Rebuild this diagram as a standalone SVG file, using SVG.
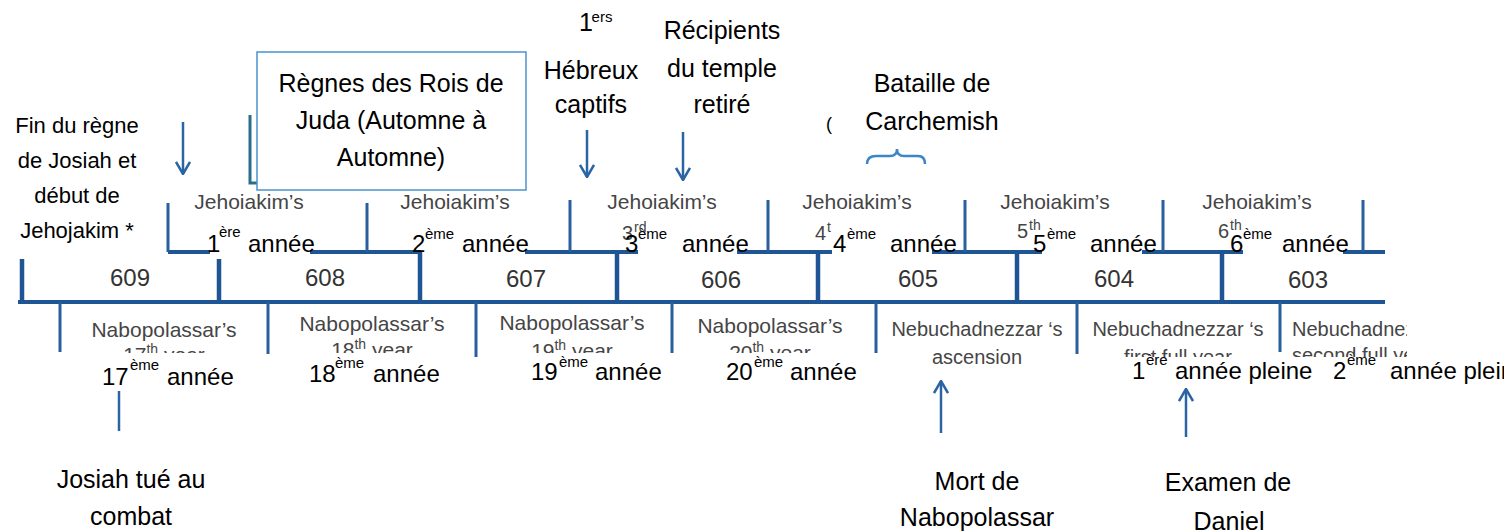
<svg xmlns="http://www.w3.org/2000/svg" width="1504" height="531" viewBox="0 0 1504 531">
<style>
text{font-family:"Liberation Sans",Arial,sans-serif}
.fr{fill:#000;font-size:24px}
.lab{fill:#000;font-size:25px;text-anchor:middle}
.sm{fill:#000;font-size:22px;text-anchor:middle}
.sup{font-size:15px}
.gr{fill:#454545;font-size:21px;text-anchor:middle}
.gs{fill:#454545;font-size:20px}
.gsup{font-size:14px}
.yr{fill:#333;font-size:24px;text-anchor:middle}
.ax{stroke:#1f5594;stroke-width:4;fill:none}
.tk{stroke:#1f5594;stroke-width:4.5;fill:none}
.jt{stroke:#2a5f9e;stroke-width:3;fill:none}
.arr{stroke:#2b64a3;stroke-width:2.5;fill:none}
</style>
<defs>
<marker id="head" viewBox="0 0 14 16" refX="13" refY="8" markerWidth="14" markerHeight="16" markerUnits="userSpaceOnUse" orient="auto">
<path d="M1,1 L13,8 L1,15" fill="none" stroke="#2b64a3" stroke-width="2.5"/>
</marker>
<clipPath id="botclip">
<rect x="0" y="300" width="870" height="53"/>
<rect x="870" y="300" width="207" height="80"/>
<rect x="1077" y="300" width="330" height="57"/>
</clipPath>
</defs>
<rect width="1504" height="531" fill="#fff"/>

<g id="connectors">
<line class="ax" x1="18" y1="302" x2="1385" y2="302"/>
<path class="ax" d="M168,252 H210 M310,252 H421 M525,252 H638 M737,252 H832 M932,252 H1042 M1142,252 H1243 M1343,252 H1385"/>
<path class="jt" d="M168,203 V252 M367,203 V252 M570,200 V252 M768,200 V252 M965,200 V252 M1163,200 V252 M1363,200 V252"/>
<path class="tk" d="M22,259 V303 M219,259 V303 M420,252 V303 M617,252 V303 M818,252 V303 M1017,252 V303 M1222,252 V303"/>
<path class="jt" d="M60,302 V352 M268,302 V354 M476,302 V357 M672,302 V353 M876,302 V353 M1077,302 V354 M1280,302 V352"/>
<path d="M250,115 V183 H257" stroke="#2a6e8c" stroke-width="3" fill="none"/>
<line class="arr" x1="183" y1="122" x2="183" y2="174" marker-end="url(#head)"/>
<line class="arr" x1="587" y1="130" x2="587" y2="177" marker-end="url(#head)"/>
<line class="arr" x1="683" y1="132" x2="683" y2="180" marker-end="url(#head)"/>
<line class="arr" x1="119" y1="391" x2="119" y2="431"/>
<line class="arr" x1="941" y1="433" x2="941" y2="381" marker-end="url(#head)"/>
<line class="arr" x1="1186" y1="437" x2="1186" y2="389" marker-end="url(#head)"/>
<path d="M867,164 Q867,156 876,156 H890 Q897,156 897,149 Q897,156 904,156 H918 Q925,156 925,164" stroke="#3a86c8" stroke-width="2.5" fill="none"/>
</g>

<g id="years">
<text class="yr" x="130" y="286">609</text>
<text class="yr" x="325" y="286">608</text>
<text class="yr" x="526" y="287">607</text>
<text class="yr" x="721" y="288">606</text>
<text class="yr" x="918" y="287">605</text>
<text class="yr" x="1114" y="287">604</text>
<text class="yr" x="1308" y="288">603</text>
</g>

<g id="judah-labels">
<text class="gr" x="249" y="209">Jehoiakim’s</text>
<text class="gr" x="455" y="209">Jehoiakim’s</text>
<text class="gr" x="662" y="209">Jehoiakim’s</text>
<text class="gr" x="857" y="209">Jehoiakim’s</text>
<text class="gr" x="1055" y="209">Jehoiakim’s</text>
<text class="gr" x="1257" y="209">Jehoiakim’s</text>
<text class="gs" y="240"><tspan x="622">3</tspan><tspan class="gsup" x="634" y="232">rd</tspan></text>
<text class="gs" y="240"><tspan x="815">4</tspan><tspan class="gsup" x="827" y="232">t</tspan></text>
<text class="gs" y="238"><tspan x="1017">5</tspan><tspan class="gsup" x="1029" y="230">th</tspan></text>
<text class="gs" y="238"><tspan x="1218">6</tspan><tspan class="gsup" x="1230" y="230">th</tspan></text>
</g>

<g id="babylon-labels" clip-path="url(#botclip)">
<text class="gr" x="164" y="337">Nabopolassar’s</text>
<text class="gr" x="164" y="362">17<tspan class="gsup" dy="-8">th</tspan><tspan dy="8"> year</tspan></text>
<text class="gr" x="372" y="331">Nabopolassar’s</text>
<text class="gr" x="372" y="357">18<tspan class="gsup" dy="-8">th</tspan><tspan dy="8"> year</tspan></text>
<text class="gr" x="572" y="330">Nabopolassar’s</text>
<text class="gr" x="572" y="358">19<tspan class="gsup" dy="-8">th</tspan><tspan dy="8"> year</tspan></text>
<text class="gr" x="770" y="333">Nabopolassar’s</text>
<text class="gr" x="770" y="360">20<tspan class="gsup" dy="-8">th</tspan><tspan dy="8"> year</tspan></text>
<text class="gr" x="977" y="336" style="font-size:20px">Nebuchadnezzar ‘s</text>
<text class="gr" x="977" y="364" style="font-size:20px">ascension</text>
<text class="gr" x="1178" y="336" style="font-size:20px">Nebuchadnezzar ‘s</text>
<text class="gr" x="1178" y="364" style="font-size:20px">first full year</text>
<text class="gr" x="1292" y="336" style="font-size:20px;text-anchor:start">Nebuchadnezzar ‘s</text>
<text class="gr" x="1292" y="362" style="font-size:20px;text-anchor:start">second full year</text>
</g>

<g id="judah-years-fr">
<text class="fr" y="252"><tspan x="207">1</tspan><tspan class="sup" x="219" y="237">ère</tspan><tspan x="248" y="252">année</tspan></text>
<text class="fr" y="252"><tspan x="412">2</tspan><tspan class="sup" x="425" y="239">ème</tspan><tspan x="462" y="252">année</tspan></text>
<text class="fr" y="252"><tspan x="625">3</tspan><tspan class="sup" x="638" y="239">ème</tspan><tspan x="682" y="252">année</tspan></text>
<text class="fr" y="252"><tspan x="833">4</tspan><tspan class="sup" x="847" y="239">ème</tspan><tspan x="890" y="252">année</tspan></text>
<text class="fr" y="252"><tspan x="1033">5</tspan><tspan class="sup" x="1047" y="239">ème</tspan><tspan x="1090" y="252">année</tspan></text>
<text class="fr" y="252"><tspan x="1230">6</tspan><tspan class="sup" x="1243" y="239">ème</tspan><tspan x="1282" y="252">année</tspan></text>
</g>

<g id="babylon-years-fr">
<text class="fr" y="385"><tspan x="102">17</tspan><tspan class="sup" x="130" y="370">ème</tspan><tspan x="167" y="385">année</tspan></text>
<text class="fr" y="382"><tspan x="309">18</tspan><tspan class="sup" x="335" y="368">ème</tspan><tspan x="373" y="382">année</tspan></text>
<text class="fr" y="380"><tspan x="531">19</tspan><tspan class="sup" x="559" y="367">ème</tspan><tspan x="595" y="380">année</tspan></text>
<text class="fr" y="380"><tspan x="726">20</tspan><tspan class="sup" x="754" y="367">ème</tspan><tspan x="790" y="380">année</tspan></text>
<text class="fr" y="379"><tspan x="1132">1</tspan><tspan class="sup" x="1146" y="365">ère</tspan><tspan x="1175" y="379">année pleine</tspan></text>
<text class="fr" y="379"><tspan x="1333">2</tspan><tspan class="sup" x="1347" y="365">ème</tspan><tspan x="1390" y="379">année pleine</tspan></text>
</g>

<g id="node-fin-regne">
<text class="sm" x="77" y="133">Fin du règne</text>
<text class="sm" x="77" y="168">de Josiah et</text>
<text class="sm" x="77" y="203">début de</text>
<text class="sm" x="77" y="238">Jehojakim *</text>
</g>

<g id="node-regnes">
<rect x="257" y="52" width="269" height="138" fill="#fff" stroke="#4a93cf" stroke-width="1.5"/>
<text class="lab" x="391" y="92">Règnes des Rois de</text>
<text class="lab" x="391" y="129">Juda (Automne à</text>
<text class="lab" x="391" y="166">Automne)</text>
</g>

<g id="node-hebreux">
<text class="lab" y="31"><tspan x="586">1</tspan><tspan class="sup" x="602" y="22">ers</tspan></text>
<text class="lab" x="591" y="79">Hébreux</text>
<text class="lab" x="591" y="113">captifs</text>
</g>

<g id="node-recipients">
<text class="lab" x="722" y="39">Récipients</text>
<text class="lab" x="722" y="77">du temple</text>
<text class="lab" x="722" y="113">retiré</text>
</g>

<g id="node-carchemish">
<text class="sm" x="829" y="130" style="font-size:18px">(</text>
<text class="lab" x="932" y="92">Bataille de</text>
<text class="lab" x="932" y="130">Carchemish</text>
</g>

<g id="node-josiah">
<text class="lab" x="131" y="488">Josiah tué au</text>
<text class="lab" x="131" y="525">combat</text>
</g>

<g id="node-mort">
<text class="lab" x="977" y="490">Mort de</text>
<text class="lab" x="977" y="526">Nabopolassar</text>
</g>

<g id="node-examen">
<text class="lab" x="1228" y="491">Examen de</text>
<text class="lab" x="1229" y="530">Daniel</text>
</g>
</svg>
